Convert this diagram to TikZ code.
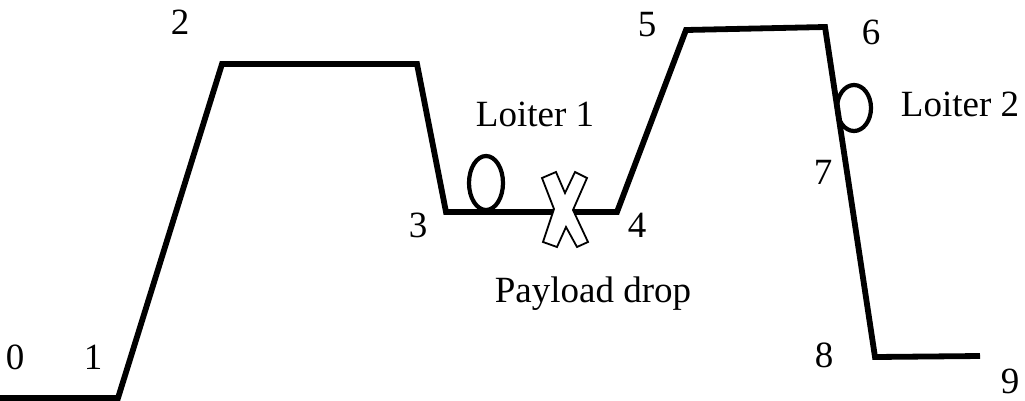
\documentclass[tikz,border=0pt]{standalone}
\usepackage{fontspec}
\setmainfont{Liberation Serif}
\begin{document}
\begin{tikzpicture}[x=1pt,y=-1pt,
  lbl/.style={font=\fontsize{37}{42}\selectfont, inner sep=0pt},
  route/.style={line width=5.8pt, line join=miter},
  loiter/.style={line width=4.2pt},
  dropmark/.style={line width=1.8pt, fill=white, line join=miter}]
\useasboundingbox (0,0) rectangle (1025,400);
% waypoints
\coordinate (p0) at (0,398);
\coordinate (p1) at (118,398);
\coordinate (p2) at (222,64);
\coordinate (p2b) at (417,64);
\coordinate (p3) at (446,212);
\coordinate (p4) at (617,212);
\coordinate (p5) at (686,30);
\coordinate (p6) at (825,27);
\coordinate (p8) at (875,357);
\coordinate (p9) at (980,356);
\draw[route] (p0) -- (p1) -- (p2) -- (p2b) -- (p3) -- (p4) -- (p5) -- (p6) -- (p8) -- (p9);
% loiters
\coordinate (l1) at (486,183);
\coordinate (l2) at (854,108);
\draw[loiter] (l1) ellipse [x radius=17, y radius=27];
\draw[loiter] (l2) ellipse [x radius=17, y radius=23];
% payload drop mark
\draw[dropmark] (556,172) -- (565,193) -- (575,172) -- (587,178) -- (573,210) -- (588,242) -- (577,247) -- (566,227) -- (557,247) -- (543,242) -- (554,209) -- (542,178) -- cycle;
% labels
\node[lbl] (n0) at (15,357) {0};
\node[lbl] (n1) at (93,357) {1};
\node[lbl] (n2) at (180,22) {2};
\node[lbl] (n3) at (418,225) {3};
\node[lbl] (n4) at (637,225) {4};
\node[lbl] (n5) at (647,25) {5};
\node[lbl] (n6) at (871,32) {6};
\node[lbl] (n7) at (823,172) {7};
\node[lbl] (n8) at (824,355) {8};
\node[lbl] (n9) at (1010,381) {9};
\node[lbl] (tl1) at (535,114) {Loiter 1};
\node[lbl] (tl2) at (960,104) {Loiter 2};
\node[lbl] (tpd) at (593,294) {Payload drop};
\end{tikzpicture}
\end{document}
